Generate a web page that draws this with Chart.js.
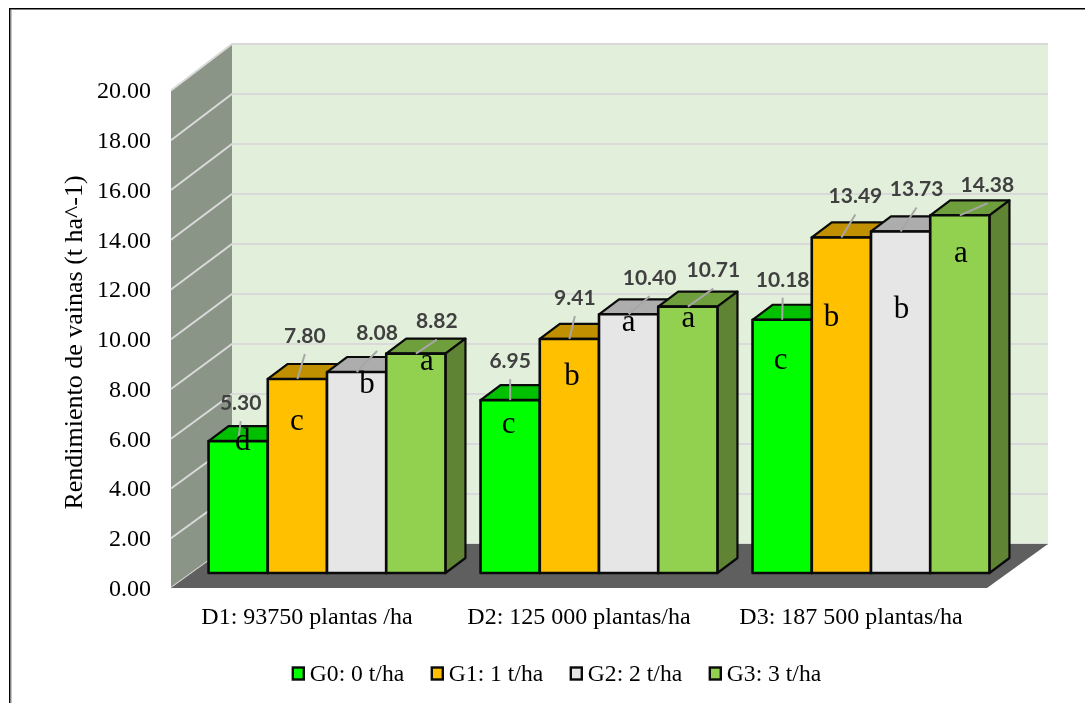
<!DOCTYPE html>
<html>
<head>
<meta charset="utf-8">
<title>Rendimiento de vainas</title>
<style>
  html, body { margin: 0; padding: 0; background: #fff; overflow: hidden; }
  #wrap { position: absolute; left: 0; top: 0; width: 1085px; height: 703px; }
</style>
<script src="https://cdn.jsdelivr.net/npm/chart.js@4"></script>
</head>
<body>
<div id="wrap"><canvas id="yieldChart" width="1085" height="703"></canvas></div>
<script>
// ==== DATA ====
const categories = ['D1: 93750 plantas /ha', 'D2: 125 000 plantas/ha', 'D3: 187 500 plantas/ha'];
const seriesNames = ['G0: 0 t/ha', 'G1: 1 t/ha', 'G2: 2 t/ha', 'G3: 3 t/ha'];
const g0Values = [5.30, 6.95, 10.18];
const g1Values = [7.80, 9.41, 13.49];
const g2Values = [8.08, 10.40, 13.73];
const g3Values = [8.82, 10.71, 14.38];
const g0Letters = ['d', 'c', 'c'];
const g1Letters = ['c', 'b', 'b'];
const g2Letters = ['b', 'a', 'b'];
const g3Letters = ['a', 'a', 'a'];
const axisTitle = 'Rendimiento de vainas (t ha^-1)';

// ==== LOOK ====
const SERIF = '"Liberation Serif", serif';
const frontColors = ['#00FF00', '#FFC000', '#E6E6E6', '#92D050'];
const topColors = ['#00C000', '#C09000', '#ADADAD', '#6F9F3D'];
const sideColors = ['#00A000', '#A07800', '#909090', '#5F8433'];
const BAR_DX = 20, BAR_DY = 15;       // bars stand this far back on the floor
const BAR_DEPTH_X = 20, BAR_DEPTH_Y = 15;
const WALL_DX = 61, WALL_DY = 44;

// where each value label and letter sits relative to the top centre of its bar
const labelOffsets = [
  [[2.5, -38], [0, -39], [0.5, -40]],
  [[7.5, -43], [5.5, -41], [14, -41]],
  [[20.5, -39], [21, -36], [16, -42]],
  [[21, -32], [25.5, -36], [27.5, -30]]
];
const letterOffsets = [
  [[4.5, 9], [-1.5, 33], [-1.5, 49]],
  [[-0.5, 51], [2.5, 46], [-10, 89]],
  [[10.5, 21], [0, 17], [1, 87]],
  [[11, 16], [0.5, 20], [1, 46.5]]
];
const allLetters = [g0Letters, g1Letters, g2Letters, g3Letters];

function poly(ctx, pts, fill, stroke, lw) {
  ctx.beginPath();
  pts.forEach((p, i) => i ? ctx.lineTo(p[0], p[1]) : ctx.moveTo(p[0], p[1]));
  ctx.closePath();
  if (fill) { ctx.fillStyle = fill; ctx.fill(); }
  if (stroke) { ctx.strokeStyle = stroke; ctx.lineWidth = lw; ctx.lineJoin = 'round'; ctx.stroke(); }
}

// ==== 3D BOX PLUGIN ====
const boxPlugin = {
  id: 'box3d',
  // walls, floor, page frame and the rotated axis title
  beforeDatasetsDraw(chart) {
    const { ctx, chartArea: a, scales: { y } } = chart;
    const backY = py => py - WALL_DY - (a.bottom - py) * 0.005;
    const bx = a.left + WALL_DX, rx = a.right + WALL_DX;
    ctx.save();

    ctx.fillStyle = '#000';
    ctx.fillRect(9, 8, 1076, 1.5);
    ctx.fillRect(9, 8, 1.5, 695);
    ctx.fillStyle = '#8c8c8c';
    ctx.fillRect(10.5, 9.5, 1, 694);

    poly(ctx, [[bx, backY(a.top)], [rx, backY(a.top)], [rx, backY(a.bottom)], [bx, backY(a.bottom)]], '#E2EFDA');
    poly(ctx, [[a.left, a.top], [bx, backY(a.top)], [bx, backY(a.bottom)], [a.left, a.bottom]], '#8B9587');

    ctx.strokeStyle = '#D9D9D9';
    ctx.lineWidth = 2;
    y.ticks.forEach(t => {
      const py = y.getPixelForValue(t.value);
      ctx.beginPath();
      ctx.moveTo(a.left, py);
      ctx.lineTo(bx, backY(py));
      ctx.lineTo(rx, backY(py));
      ctx.stroke();
    });

    poly(ctx, [[a.left, a.bottom], [bx, backY(a.bottom)], [rx, backY(a.bottom)], [a.right, a.bottom]], '#5F5F5F');

    ctx.translate(75.5, 342.5);
    ctx.rotate(-Math.PI / 2);
    ctx.fillStyle = '#000';
    ctx.font = '26px ' + SERIF;
    ctx.textAlign = 'center';
    ctx.textBaseline = 'middle';
    ctx.fillText(axisTitle, 0, 0);
    ctx.restore();
  },
  // the series are painted left to right below, not in the library's order
  beforeDatasetDraw() {
    return false;
  },
  afterDatasetsDraw(chart) {
    const { ctx } = chart;
    const metas = chart.data.datasets.map((ds, i) => chart.getDatasetMeta(i));

    metas.forEach((meta, i) => {
      ctx.save();
      meta.data.forEach(bar => {
        const l = bar.x - bar.width / 2 + BAR_DX, r = bar.x + bar.width / 2 + BAR_DX;
        const t = bar.y - BAR_DY, b = bar.base - BAR_DY;
        poly(ctx, [[l, t], [l + BAR_DEPTH_X, t - BAR_DEPTH_Y], [r + BAR_DEPTH_X, t - BAR_DEPTH_Y], [r, t]], topColors[i], '#0a0a0a', 2.2);
        poly(ctx, [[r, t], [r + BAR_DEPTH_X, t - BAR_DEPTH_Y], [r + BAR_DEPTH_X, b - BAR_DEPTH_Y], [r, b]], sideColors[i], '#0a0a0a', 2.2);
      });
      ctx.translate(BAR_DX, -BAR_DY);
      meta.controller.draw();
      ctx.strokeStyle = '#0a0a0a';
      ctx.lineWidth = 2.6;
      ctx.lineJoin = 'round';
      meta.data.forEach(bar => {
        ctx.strokeRect(bar.x - bar.width / 2, bar.y, bar.width, bar.base - bar.y);
      });
      ctx.restore();
    });

    // leader lines, value labels and letters
    ctx.save();
    ctx.textAlign = 'center';
    metas.forEach((meta, i) => {
      meta.data.forEach((bar, j) => {
        const cx = bar.x + BAR_DX, cy = bar.y - BAR_DY;
        const [lx, ly] = labelOffsets[i][j];
        ctx.strokeStyle = '#A6A6A6';
        ctx.lineWidth = 2;
        ctx.beginPath();
        ctx.moveTo(cx + lx, cy + ly + 18);
        ctx.lineTo(cx, cy);
        ctx.stroke();

        ctx.fillStyle = '#404040';
        ctx.font = '700 21px Lato, sans-serif';
        ctx.textBaseline = 'middle';
        ctx.fillText(chart.data.datasets[i].data[j].toFixed(2), cx + lx, cy + ly);

        const [tx, ty] = letterOffsets[i][j];
        ctx.fillStyle = '#000';
        ctx.font = '31px ' + SERIF;
        ctx.textBaseline = 'alphabetic';
        ctx.fillText(allLetters[i][j], cx + tx, cy + ty);
      });
    });

    // legend row
    ctx.font = '23.6px ' + SERIF;
    ctx.textAlign = 'left';
    ctx.textBaseline = 'alphabetic';
    chart.data.datasets.forEach((ds, i) => {
      const x = 292.8 + i * 139;
      ctx.fillStyle = ds.backgroundColor;
      ctx.fillRect(x, 667.5, 11, 12);
      ctx.strokeStyle = '#0a0a0a';
      ctx.lineWidth = 2.4;
      ctx.strokeRect(x, 667.5, 11, 12);
      ctx.fillStyle = '#000';
      ctx.fillText(ds.label, x + 17, 681);
    });
    ctx.restore();
  }
};

// ==== CHART ====
const seriesValues = [g0Values, g1Values, g2Values, g3Values];
new Chart(document.getElementById('yieldChart').getContext('2d'), {
  type: 'bar',
  data: {
    labels: categories,
    datasets: seriesNames.map((name, i) => ({
      label: name,
      data: seriesValues[i],
      backgroundColor: frontColors[i],
      borderWidth: 0,
      clip: false,
      categoryPercentage: 0.871,
      barPercentage: 1
    }))
  },
  options: {
    responsive: false,
    animation: false,
    layout: { padding: { left: 0, right: 98, top: 90.5, bottom: 0 } },
    plugins: { legend: { display: false }, tooltip: { enabled: false } },
    scales: {
      x: {
        grid: { display: false, drawTicks: false },
        border: { display: false },
        ticks: { color: '#000', font: { family: SERIF, size: 24 }, padding: 15, maxRotation: 0 },
        afterFit(scale) { scale.height = 115; }
      },
      y: {
        min: 0,
        max: 20,
        grid: { display: false, drawTicks: false },
        border: { display: false },
        ticks: {
          stepSize: 2,
          color: '#000',
          font: { family: SERIF, size: 24 },
          padding: 20,
          labelOffset: 1.5,
          callback: v => v.toFixed(2)
        },
        afterFit(scale) { scale.width = 171; }
      }
    }
  },
  plugins: [boxPlugin]
});
</script>
</body>
</html>
